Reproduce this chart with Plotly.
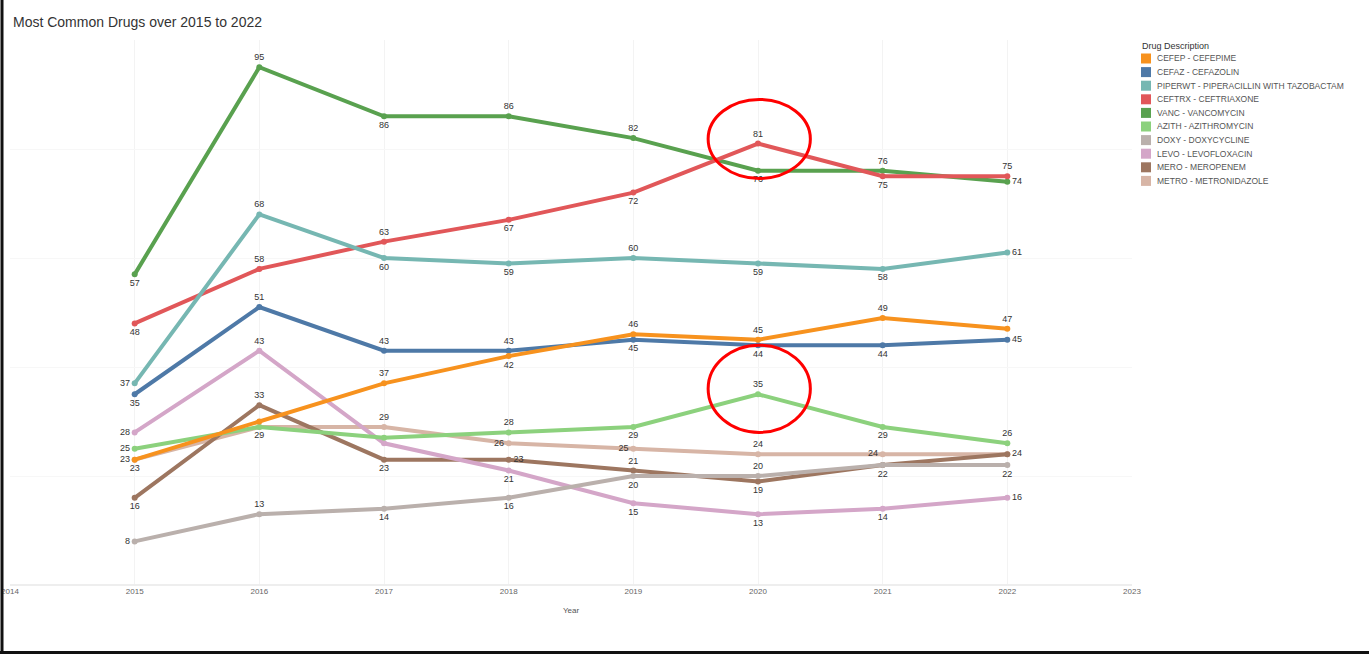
import plotly.graph_objects as go

# ---------------- data ----------------
years = [2015, 2016, 2017, 2018, 2019, 2020, 2021, 2022]

drug_names = [
    "CEFEP - CEFEPIME",
    "CEFAZ - CEFAZOLIN",
    "PIPERWT - PIPERACILLIN WITH TAZOBACTAM",
    "CEFTRX - CEFTRIAXONE",
    "VANC - VANCOMYCIN",
    "AZITH - AZITHROMYCIN",
    "DOXY - DOXYCYCLINE",
    "LEVO - LEVOFLOXACIN",
    "MERO - MEROPENEM",
    "METRO - METRONIDAZOLE",
]

cefep = [23, 30, 37, 42, 46, 45, 49, 47]
cefaz = [35, 51, 43, 43, 45, 44, 44, 45]
piperwt = [37, 68, 60, 59, 60, 59, 58, 61]
ceftrx = [48, 58, 63, 67, 72, 81, 75, 75]
vanc = [57, 95, 86, 86, 82, 76, 76, 74]
azith = [25, 29, 27, 28, 29, 35, 29, 26]
doxy = [8, 13, 14, 16, 20, 20, 22, 22]
levo = [28, 43, 26, 21, 15, 13, 14, 16]
mero = [16, 33, 23, 23, 21, 19, 22, 24]
metro = [23, 29, 29, 26, 25, 24, 24, 24]

series = [cefep, cefaz, piperwt, ceftrx, vanc, azith, doxy, levo, mero, metro]

axis_years = [2014, 2015, 2016, 2017, 2018, 2019, 2020, 2021, 2022, 2023]

# ---------------- styles ----------------
colors = ["#F7921E", "#4E79A7", "#76B7B2", "#E15759", "#59A14F",
          "#8CD17D", "#BAB0AC", "#D4A6C8", "#9D7660", "#D7B5A6"]

T, B, L, R, N = "top center", "bottom center", "middle left", "middle right", None
label_pos = [
    [L, N, T, B, T, T, T, T],   # CEFEP
    [B, T, T, T, B, B, B, R],   # CEFAZ
    [L, T, B, B, T, B, B, R],   # PIPERWT
    [B, T, T, B, B, T, B, T],   # CEFTRX
    [B, T, B, T, T, B, T, R],   # VANC
    [L, B, N, T, B, T, B, T],   # AZITH
    [L, T, B, B, B, T, B, B],   # DOXY
    [L, T, N, B, B, B, B, R],   # LEVO
    [B, T, B, R, T, B, N, R],   # MERO
    [B, N, T, L, L, T, L, N],   # METRO
]

FONT = "Arial, Liberation Sans, sans-serif"
W, H = 1369, 656
PL, PR, PT, PB = 10, 1132, 40, 585   # plot area in pixels

def px_x(px):
    return (px - PL) / (PR - PL)

def px_y(py):
    return (PB - py) / (PB - PT)

fig = go.Figure()

# draw lower-priority traces first, top legend entries last
for i in reversed(range(len(series))):
    vals = series[i]
    pos = label_pos[i]
    texts = [str(v) if p else "" for v, p in zip(vals, pos)]
    tpos = [p if p else "top center" for p in pos]
    fig.add_trace(go.Scatter(
        x=years, y=vals, mode="lines+markers+text",
        name=drug_names[i],
        line=dict(color=colors[i], width=4),
        marker=dict(color=colors[i], size=6),
        text=texts, textposition=tpos,
        textfont=dict(family=FONT, size=9, color="#333333"),
        showlegend=False, cliponaxis=False,
        hovertemplate="%{y}<extra>" + drug_names[i] + "</extra>",
    ))

shapes = []
annotations = []

# red highlight circles around 2020
shapes.append(dict(type="circle", xref="x", yref="y",
                   x0=2019.6, x1=2020.42, y0=74.6, y1=89.1,
                   line=dict(color="#FF0000", width=3)))
shapes.append(dict(type="circle", xref="x", yref="y",
                   x0=2019.6, x1=2020.42, y0=28.0, y1=44.0,
                   line=dict(color="#FF0000", width=3)))

# frame borders (left and bottom)
shapes.append(dict(type="line", xref="paper", yref="paper",
                   x0=px_x(2), x1=px_x(2), y0=px_y(0), y1=px_y(654),
                   line=dict(color="#111111", width=3)))
shapes.append(dict(type="line", xref="paper", yref="paper",
                   x0=px_x(0), x1=px_x(1369), y0=px_y(652.5), y1=px_y(652.5),
                   line=dict(color="#111111", width=3)))

# manual legend
annotations.append(dict(xref="paper", yref="paper", x=px_x(1140), y=px_y(46),
                        xanchor="left", yanchor="middle", showarrow=False,
                        text="Drug Description",
                        font=dict(family=FONT, size=9, color="#333333")))
for i, name in enumerate(drug_names):
    cy = 58.5 + i * 13.6
    shapes.append(dict(type="rect", xref="paper", yref="paper",
                       x0=px_x(1141), x1=px_x(1151),
                       y0=px_y(cy - 5), y1=px_y(cy + 5),
                       fillcolor=colors[i], line=dict(width=0)))
    annotations.append(dict(xref="paper", yref="paper", x=px_x(1155), y=px_y(cy),
                            xanchor="left", yanchor="middle", showarrow=False,
                            text=name,
                            font=dict(family=FONT, size=8.5, color="#555555")))

fig.update_layout(
    width=W, height=H,
    margin=dict(l=PL, r=W - PR, t=PT, b=H - PB, autoexpand=False),
    paper_bgcolor="white", plot_bgcolor="white",
    title=dict(text="Most Common Drugs over 2015 to 2022",
               x=13 / W, xanchor="left",
               y=1 - 22 / H, yanchor="middle",
               font=dict(family=FONT, size=14, color="#333333")),
    xaxis=dict(range=[2014, 2023], tickmode="array",
               tickvals=axis_years,
               ticktext=[str(y) for y in axis_years],
               showgrid=True, gridcolor="#F3F3F3", gridwidth=1,
               zeroline=False, showline=False, ticks="", automargin=False,
               tickfont=dict(family=FONT, size=8, color="#666666"),
               title=dict(text="Year", standoff=12,
                          font=dict(family=FONT, size=8, color="#555555"))),
    yaxis=dict(range=[0, 100], showticklabels=False, showgrid=True,
               gridcolor="#F7F7F7", zeroline=True, zerolinecolor="#EEEEEE",
               dtick=20, ticks="", automargin=False),
    shapes=shapes, annotations=annotations,
    showlegend=False,
)

fig.write_html("out.html")
